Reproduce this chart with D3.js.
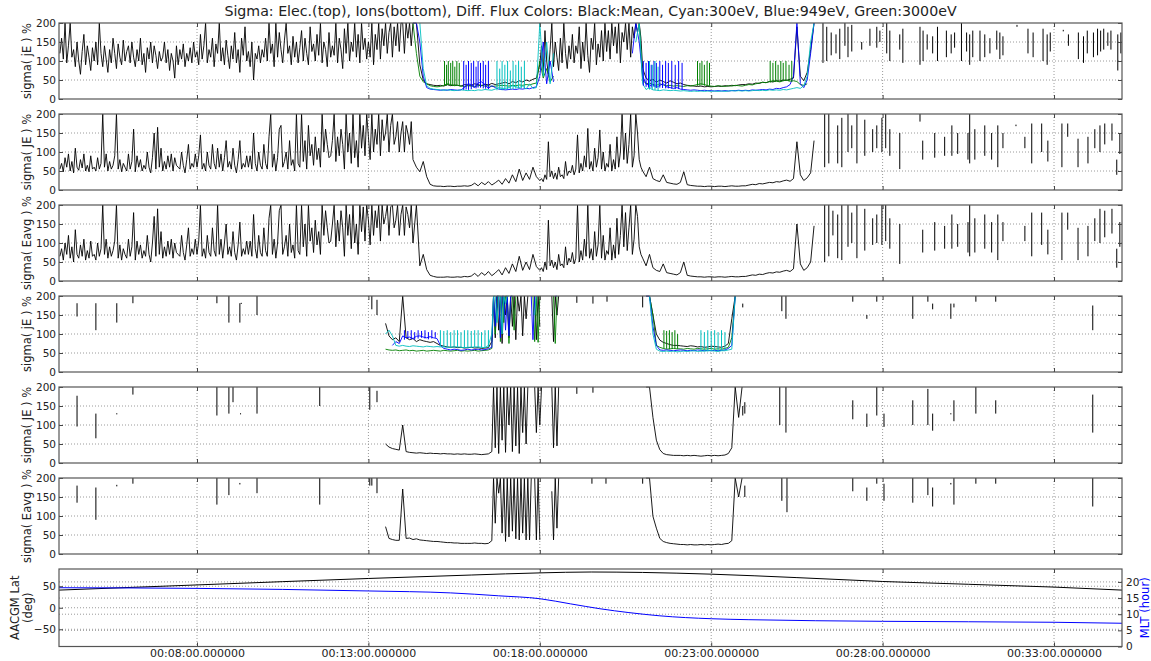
<!DOCTYPE html>
<html><head><meta charset="utf-8">
<script src="https://cdn.jsdelivr.net/npm/d3@7/dist/d3.min.js"></script>
<style>
body{margin:0;background:#fff}
svg{display:block}
text{font-family:"DejaVu Sans",sans-serif;fill:#222}
</style>
</head><body>
<svg id="chart" width="1151" height="661"></svg>
<script>
// ---------------- DATA ----------------
const chartTitle = "Sigma: Elec.(top), Ions(bottom), Diff. Flux Colors: Black:Mean, Cyan:300eV, Blue:949eV, Green:3000eV";
const timeDomain = [3.974, 34.983];          // minutes after 00:00
const timeTicks = [8, 13, 18, 23, 28, 33];     // minutes
const sigmaTicks = [0, 50, 100, 150, 200];
const latTicks = [-50, 0, 50];
const mltTicks = [0, 5, 10, 15, 20];
const fineStep = 0.05, coarseStep = 0.1;      // minutes between samples

// ---- Panel 1: electron sigma(jE) ----
const elecJEMeanA = [
120,160,105,200,95,140,200,110,130,85, 150,100,65,125,170,90,140,110,75,135,
100,150,90,200,120,85,140,105,70,130, 95,160,120,80,145,110,90,155,100,125,
140,95,150,110,85,130,100,160,90,120, 70,135,105,150,95,140,115,80,125,100,
110,150,95,130,75,120,100,55,140,90, 130,105,145,85,120,100,135,95,150,110,
125,90,170,105,140,200,95,130,110,160, 85,145,120,200,100,135,90,155,115,80,
140,105,175,95,130,70,160,115,190,100, 125,85,150,50,120,105,140,95,130,110,
160,100,200,120,145,85,200,110,175,130, 95,155,200,120,140,90,165,110,150,95,
135,180,100,160,120,90,190,125,145,100, 170,115,200,95,150,130,85,175,110,140,
115,200,95,160,130,80,185,120,200,100, 150,125,200,110,170,95,200,130,160,105,
150,110,200,90,170,130,200,105,185,140, 200,120,175,200,110,190,140,200,125,200,
200,120,200,160,200,140,200];
const elecJEMeanB = [200,90,50,40, 38,36,35,36,34,38,35,37,36,34,38,37,
36,40,38,35,39,37,41,38,40,42, 44,40,46,43,48,45,50,47,52,55];
const elecJEMeanC = [
90,140,70,180,100,65,130,200,85,150, 110,75,160,95,200,120,80,140,105,170,
95,140,120,190,80,150,100,200,115,70, 160,130,200,90,145,110,180,100,200,125,
180,105,200,140,190,120,200,95,175,150, 200,130,200,110,190,160,200,175,200,160];
const elecJEMeanD = [80,55,48,52,44,50,46,42,48,44, 40,42,38,36,35,34,33,34,32,33,
32,33,34,33,35,34,36,35,37,38, 38,40,39,42,41,44,43,46,45,48, 47,50,49,52,55,190,60,48,70,130, 200];
// colour channels, 14.3-26.0 (coarse)
const elecJE949 = [
200,200,150,60,30,26,25, 24,23,24,23,25,24,23,24,30,40, 38,30,42,45,38,28,35,30,26,25,
24,25,26,25,27,26,28,27,30,32, 60,150,40,100,45,null,null,
null,null,null,null,null,null,null,null,null,null,null,null,null,null,null,null,null,null,null,
null,120,200,150, 60,40,35,38,30,36,40,32,30,28, 30,26,25,24,23,24,23,22,23,22,
22,21,22,21,22,21,22,22,23,22, 23,22,24,23,24,25,24,26,25,28, 27,30,32,38,60,200,40,30,50,120, 200];
const elecJE300 = [
null,null,200,80,35,28,26, 25,24,23,24,23,22,23,24,23,22, 23,22,24,23,25,24,23,26,30,28,
28,30,35,32,30,34,26,40,28,30, 200,60,150,40,120,null,null,
null,null,null,null,null,null,null,null,null,null,null,null,null,null,null,null,null,null,null,
null,null,150,200, 40,25,30,24,23,22,24,23,22,23, 22,21,22,21,20,21,20,21,20,21,
20,21,20,21,20,21,22,21,22,21, 22,21,22,23,22,23,22,24,23,24, 23,25,24,26,28,30,28,35,60,150, 200];
const elecJE3000 = [
200,120,60,45,40,35,33, 32,33,36,40,38,35,36,34,33,35, 34,33,35,36,34,35,33,34,35,36,
35,34,36,35,37,36,38,37,40,42, 100,55,80,45,60,null,null,
null,null,null,null,null,null,null,null,null,null,null,null,null,null,null,null,null,null,null,
null,null,null,200, 50,40,42,38,36,40,37,35,36,34, 35,34,33,35,34,36,38,40,38,35,
34,33,35,34,33,35,34,36,35,34, 36,38,37,40,42,44,43,46,48,47, 45,48,50,47,48,46,38,36,40,null, null];
// short bursts and isolated samples: [time, top, bottom]
const elecJE3000Spikes = [[15.22,100,35],[15.28,90,35],[15.33,100,36],[15.4,95,35],[15.46,100,34],[15.52,85,35],[15.58,100,36],[15.65,95,35],[22.6,100,35],[22.67,95,35],[22.73,100,36],[22.8,90,35],[22.88,100,34],[22.95,95,35],[24.72,100,43],[24.8,95,44],[24.88,100,45],[24.95,90,46],[25.03,100,45],[25.1,95,47],[25.18,100,48],[25.27,90,46],[25.35,100,45]];
const elecJE949Spikes = [[15.78,100,24],[15.85,90,25],[15.92,100,24],[16.0,95,26],[16.07,100,30],[16.14,85,28],[16.2,100,30],[16.27,95,30],[16.35,100,28],[16.42,90,27],[16.5,100,26],[21.02,100,35],[21.1,95,32],[21.17,100,30],[21.25,90,30],[21.33,100,32],[21.4,95,30],[21.5,100,30],[21.58,90,29],[21.67,100,28],[21.75,95,28],[21.85,100,27],[21.95,90,26],[22.05,100,26],[22.15,95,25]];
const elecJE300Spikes = [[16.75,100,23],[16.83,80,24],[16.9,100,23],[16.98,90,24],[17.06,100,25],[17.14,75,25],[17.22,100,26],[17.3,90,27],[17.38,100,28],[17.46,85,28],[17.55,100,29],[21.2,100,25],[21.28,90,24],[21.36,100,24],[21.45,85,23]];
const elecJESpikes = [[26.26,200,95],[26.37,190,100],[26.5,175,115],[26.64,170,120],[26.75,185,105],[26.9,200,140],[26.99,190,110],[27.1,195,125],[27.39,150,130],[27.63,185,140],[27.83,190,135],[27.92,180,150],[28.12,200,120],[28.21,180,100],[28.5,170,130],[28.59,185,95],[29.09,190,90],[29.18,180,100],[29.3,170,130],[29.46,165,120],[29.6,190,100],[29.86,180,110],[30.0,170,120],[30.1,175,135],[30.3,200,100],[30.45,175,125],[30.54,170,90],[30.63,180,110],[30.84,180,100],[30.98,170,110],[31.13,160,120],[31.33,180,130],[31.42,175,105],[31.51,165,115],[31.92,195,190],[32.24,185,120],[32.39,175,110],[32.68,185,100],[32.8,170,90],[32.89,175,125],[33.27,182,178],[33.42,170,140],[33.71,175,105],[33.86,165,95],[33.97,180,120],[34.15,175,110],[34.27,185,115],[34.36,180,125],[34.45,185,130],[34.57,175,140],[34.66,180,130],[34.86,170,75],[34.95,175,120]];

// ---- Panel 2: electron sigma(JE) ----
const elecJEA = [
55,70,48,85,60,95,50,75,45,110, 60,52,80,58,95,50,65,48,90,55,
60,50,85,55,70,200,60,95,50,75, 55,65,90,200,55,80,48,70,60,50,
95,55,75,160,48,90,60,80,50,65, 55,100,60,45,85,150,55,165,60,110,
50,75,55,90,60,95,50,85,65,60, 55,100,65,45,80,120,55,70,60,95,
60,90,145,55,70,50,100,65,55,120, 70,55,110,60,95,50,85,130,60,75,
55,110,65,45,80,130,55,70,60,90, 60,90,55,150,70,50,100,65,55,120,
70,55,140,200,60,95,50,85,160,170, 60,75,100,55,130,65,80,50,200,70,
60,200,75,130,55,170,90,120,65,140, 80,110,60,200,100,160,120,85,90,130,
200,75,140,90,160,120,55,200,100,150, 70,200,85,130,60,200,110,170,90,200,
140,80,200,100,160,120,200,90,185,130, 150,200,100,170,200,120,140,180,100,150,
180,100,170,150,120,180,80];
const elecJEB = [60,48,75,35, 15,11,10,10,9,10,10,9,10,10,11,10,
12,18,11,20,14,22,13,19,26,15, 30,18,40,22,55,25,45,28,60,35];
const elecJEC = [
25,30,22,40,28,127,35,50,30,45, 28,60,35,40,30,75,38,50,45,65,
40,55,145,45,70,50,90,60,162,55, 75,50,110,60,85,158,55,100,50,70,
60,120,50,80,55,140,60,100,200,80, 150,70,120,200,60,90,200,150,80,60];
const elecJED = [50,35,60,30,25,22,40,20,18,16, 15,20,48,14,12,11,10,10,9,10,
10,9,10,10,9,10,11,10,10,11, 11,13,15,14,17,16,18,20,19,22, 21,24,26,23,30,127,40,25,32,45, 130];
const elecJESpikes2 = [[26.31,200,60],[26.43,200,70],[26.69,170,70],[26.81,190,60],[26.99,200,100],[27.1,170,110],[27.25,200,70],[27.48,185,90],[27.71,160,100],[27.83,170,110],[27.98,190,100],[28.09,200,110],[28.21,160,90],[28.5,150,55],[29.09,200,180],[29.17,130,80],[29.52,150,85],[29.81,140,90],[30.02,170,90],[30.19,150,95],[30.49,150,80],[30.54,200,70],[30.69,160,80],[30.98,170,90],[31.18,150,80],[31.36,170,60],[31.51,150,110],[31.89,172,168],[32.15,140,110],[32.35,175,70],[32.64,175,100],[32.82,130,75],[33.23,175,60],[33.4,175,140],[33.7,135,60],[33.99,140,70],[34.19,160,110],[34.34,170,100],[34.48,175,120],[34.69,175,130],[34.83,80,40],[34.92,150,95]];

// ---- Panel 3: electron sigma(Eavg) ----
const elecEavgA = [
65,85,55,100,70,120,60,90,50,135, 70,60,95,65,110,55,80,60,105,65,
70,55,100,65,85,200,70,110,60,90, 65,80,105,200,60,95,55,85,70,60,
110,65,90,180,55,105,70,95,60,80, 65,120,70,50,100,170,65,190,70,130,
60,90,65,105,70,110,60,100,75,70, 65,120,75,55,95,140,65,85,70,110,
70,105,200,65,85,60,120,75,65,140, 80,65,200,70,110,60,100,150,70,90,
65,130,75,55,95,155,65,85,70,105, 70,105,65,175,85,60,120,75,65,140,
80,65,165,200,70,110,60,100,185,200, 70,90,120,65,150,75,95,60,200,80,
70,200,90,150,65,200,105,140,75,160, 95,130,70,200,120,185,140,100,105,150,
200,90,160,105,185,140,65,200,120,175, 85,200,100,150,70,200,130,195,105,200,
160,95,200,120,185,140,200,105,200,150, 170,200,120,195,200,140,160,200,120,175,
200,120,195,175,140,200,100];
const elecEavgB = [200,40,70,30, 15,12,10,10,10,11,10,10,11,10,12,11,
13,20,12,22,15,25,14,21,30,16, 35,20,45,25,65,28,50,30,70,38];
const elecEavgC = [
28,35,25,50,30,160,40,55,35,50, 30,70,40,45,35,90,42,60,50,75,
45,60,200,50,80,55,110,65,200,60, 85,55,130,65,95,200,60,120,55,80,
70,140,55,95,60,165,70,120,200,90, 180,80,140,200,70,110,200,170,90,70];
const elecEavgD = [60,40,70,35,28,25,45,22,20,18, 16,22,50,15,13,12,11,11,10,11,
11,10,11,11,10,11,12,11,11,12, 12,14,16,15,18,17,20,22,21,24, 23,26,28,25,32,150,45,28,35,50, 145];
const elecEavgSpikes = [[26.31,200,50],[26.43,200,65],[26.55,185,120],[26.69,175,60],[26.81,200,55],[26.99,200,90],[27.1,180,100],[27.25,200,60],[27.48,190,80],[27.71,165,95],[27.83,175,100],[27.98,200,95],[28.09,200,105],[28.21,165,85],[28.5,150,45],[29.17,135,75],[29.52,155,80],[29.81,145,85],[30.02,175,85],[30.19,150,90],[30.49,155,75],[30.54,200,65],[30.69,165,75],[30.98,175,85],[31.18,155,75],[31.36,175,55],[31.51,155,105],[32.15,145,105],[32.35,180,65],[32.64,180,95],[32.82,135,70],[33.23,180,55],[33.4,180,135],[33.7,140,55],[33.99,145,65],[34.19,165,105],[34.34,190,100],[34.48,185,115],[34.69,190,125],[34.83,85,35],[34.92,155,90]];

// ---- Panel 4: ion sigma(jE) ----
const ionJEMean1a = [128,95,85,90,80, 200,90,85,88,80,85,82,80,78,80, 75,70,68,66,65,66,64,65,63,64, 65,63,64,62,63,64,80];
const ionJEMean1b = [200,90,200,110,200,75,200,150,200,90, 200,120,200,85,200,160,200,95,200,140,
  200,null,null,null,200,85,200,120,null,null, null,null,null,null,200,80,200,150,200,null, null,null];
const ionJE3000_1a = [60,58,57,58,56, 57,58,56,57,55,56,57,55,56,57, 56,55,57,56,55,56,57,55,56,55, 56,57,55,56,57,58,62];
const ionJE3000_1b = [200,100,200,200,80,200,130,200,200,75, 200,200,110,200,null,null,null,null,null,null,
  null,null,null,200,80,200,78,200,null,null, null,null,null,null,null,200,75,200,null,null, null,null];
const ionJE949_1a = [null,null,70,80,75, 95,90,92,88,94,95,92,90,93,90, 88,70,62,60,58,60,59,57,58,60, 58,59,60,58,59,61,65];
const ionJE949_1b = [200,120,200,200,90,200,200,110,200,95, 200,200,null,null,null,null,null,null,null,null,
  null,null,200,85,200,null,null,null,null,null, null,null,null,null,null,null,200,200,null,null, null,null];
const ionJE300_1a = [100,110,95,70,68, 70,68,67,69,68,67,66,68,67,66, 67,66,66,65,65,66,66,65,64,65, 65,66,66,65,64,70,100];
const ionJE300_1b = [200,200,130,200,200,100,200,180,200,200, null,null,null,null,null,null,null,null,null,null,
  null,null,null,null,150,200,null,null,null,null, null,null,null,null,null,null,null,null,200,null, null,null];
const ionJEMean2 = [200,200,150,100,84,78,75,72,70,70, 69,68,67,69,68,66,67,65,66,68, 67,66,65,68,75,140,200,null,null];
const ionJE3000_2 = [null,200,150,70,65,62,60,61,62,61, 61,60,62,61,60,62,61,60,61,62, 60,61,60,62,65,90,200,null,null];
const ionJE949_2 = [200,200,120,70,58,57,58,57,56,57, 58,57,56,57,56,58,57,56,57,56, 57,56,57,58,62,70,200,null,null];
const ionJE300_2 = [null,200,100,60,55,54,55,54,55,53, 54,55,54,55,56,54,55,55,56,56, 55,54,56,56,58,60,200,null,null];
const ionJE300Spikes = [[15.1,110,67],[15.2,108,66],[15.3,110,66],[15.4,105,65],[15.5,110,66],[15.6,110,66],[15.7,105,65],[15.8,110,64],[15.9,110,65],[16.0,108,65],[16.1,110,66],[16.2,110,65],[16.3,105,64],[16.4,110,64],[16.5,110,65],[22.7,110,54],[22.8,105,55],[22.9,110,54],[23.0,108,55],[23.1,110,56],[23.2,105,55],[23.3,110,56],[23.4,105,58]];
const ionJE3000Spikes = [[21.62,110,62],[21.7,108,61],[21.78,110,60],[21.86,105,61],[21.94,110,62],[22.02,100,61]];
const ionJE949Spikes = [[14.05,110,85],[14.15,108,88],[14.25,110,86],[14.35,105,85],[14.45,110,88],[14.55,108,90],[14.65,110,88],[14.75,105,86],[14.85,110,88],[14.95,105,90]];
const ionJESpikes = [[4.5,181,146],[5.05,181,110],[5.66,181,130],[6.13,200,181],[8.58,200,181],[8.93,200,130],[9.25,181,130],[9.29,182,179],[9.75,200,150],[13.1,200,165],[13.25,190,150],[19.08,200,182],[19.55,200,180],[19.96,200,185],[21.0,200,170],[23.92,180,170],[25.06,200,160],[25.18,200,140],[27.13,200,185],[27.54,150,140],[27.83,200,185],[28.88,200,140],[29.32,200,185],[29.46,180,165],[29.99,180,140],[30.08,180,170],[30.72,200,185],[31.3,200,185],[34.13,175,110]];

// ---- Panel 5: ion sigma(JE) ----
const ionJE1a = [50,42,38,36,34, 100,30,28,27,26,27,26,25,26,25, 25,24,25,24,24,23,24,23,24,23, 23,24,23,22,23,24,30];
const ionJE1b = [200,40,200,25,200,60,200,28,200,100, 200,30,200,45,200,25,200,80,200,50,
  200,null,null,null,200,80,200,100,200,null, null,null,null,null,200,40,200,45,200,null, null,null];
const ionJE2 = [200,200,120,60,35,25,22,21,20,20, 20,19,20,19,20,19,18,19,20,19, 20,19,20,21,25,40,200,120,200];
const ionJESpikes2 = [[4.5,177,96],[5.05,130,65],[5.66,131,128],[6.13,200,180],[8.58,200,125],[8.93,200,130],[9.05,200,160],[9.27,131,128],[9.75,200,130],[11.58,200,150],[13.04,200,140],[13.25,190,160],[19.08,200,182],[19.55,200,185],[23.92,150,125],[23.98,160,130],[25.0,200,100],[25.18,200,80],[27.13,165,115],[27.54,130,95],[27.83,200,125],[28.04,130,95],[28.88,165,100],[29.32,195,100],[29.46,130,85],[29.99,131,128],[30.08,165,110],[30.72,200,130],[31.3,165,130],[34.13,180,80]];

// ---- Panel 6: ion sigma(Eavg) ----
const ionEavg1a = [72,41,38,36,36, 171,41,42,38,40,37,36,35,34,33, 33,32,31,30,30,29,29,28,28,28, 28,29,28,28,27,28,35];
const ionEavg1b = [200,81,200,160,200,55,200,33,200,45, 200,60,200,40,200,37,200,55,200,37,
  200,37,200,null,200,37,200,37,null,null, null,null,null,null,165,37,200,68,200,null, null,null];
const ionEavg2 = [200,200,99,68,41,33,30,28,27,26, 25,25,24,25,24,24,25,24,25,24, 25,26,25,27,28,35,200,150,200];
const ionEavgSpikes = [[4.5,180,135],[5.05,175,90],[5.66,182,178],[6.13,200,185],[8.58,200,130],[8.93,200,155],[9.25,187,183],[9.75,200,160],[11.58,200,130],[13.04,200,180],[13.1,200,180],[13.25,200,160],[19.52,200,185],[19.93,200,185],[21.0,200,185],[23.98,180,150],[25.06,200,140],[25.21,200,110],[27.13,200,165],[27.54,175,140],[27.83,200,185],[28.04,185,140],[28.88,200,135],[29.32,200,155],[29.46,175,125],[29.99,187,183],[30.08,200,130],[30.72,200,185],[31.3,200,185],[34.13,200,125]];

// ---- Panel 7: ephemeris ----
const latTimes = [3.974, 8, 13, 16, 18, 19.5, 21, 23, 25.5, 28, 33, 34.983];
const aacgmLat = [41, 53, 68, 76, 81, 83, 82, 78, 70, 61, 48, 41];
const mltTimes = [3.974, 8, 13, 15.4, 16.8, 18, 18.9, 19.75, 20.6, 21.5, 23, 24.1, 28, 33, 34.983];
const mltHours = [18.2, 18.0, 17.2, 16.6, 15.7, 14.8, 13.2, 11.7, 10.5, 9.5, 8.6, 8.3, 7.8, 7.5, 7.2];

// ---------------- DRAW ----------------
const C_BLACK = "#000", C_CYAN = "#00bfbf", C_BLUE = "#0000ff", C_GREEN = "#008000";
const svg = d3.select("#chart");
const L = 59, R = 1122;
const x = d3.scaleLinear().domain(timeDomain).range([L, R]);
const fmtTime = t => {
  const total = Math.round(t * 60);
  const mm = Math.floor(total / 60), ss = total % 60;
  return "00:" + String(mm).padStart(2, "0") + ":" + String(ss).padStart(2, "0") + ".000000";
};
function points(segments) {
  const out = [];
  segments.forEach(([start, step, vals]) => vals.forEach((v, i) => out.push({ t: start + i * step, v })));
  return out;
}
const S = fineStep, B = coarseStep;
const panels = [
  { top: 23, label: "sigma( jE ) %",
    series: [
      [[[4.0, S, elecJEMeanA], [14.4, B, elecJEMeanB], [18.0, S, elecJEMeanC], [21.0, B, elecJEMeanD]], C_BLACK],
      [[[14.3, B, elecJE3000]], C_GREEN], [[[14.3, B, elecJE949]], C_BLUE], [[[14.3, B, elecJE300]], C_CYAN]],
    spikes: [[elecJESpikes, C_BLACK], [elecJE3000Spikes, C_GREEN], [elecJE949Spikes, C_BLUE], [elecJE300Spikes, C_CYAN]] },
  { top: 114, label: "sigma( JE ) %",
    series: [[[[4.0, S, elecJEA], [14.4, B, elecJEB], [18.0, S, elecJEC], [21.0, B, elecJED]], C_BLACK]],
    spikes: [[elecJESpikes2, C_BLACK]] },
  { top: 205, label: "sigma( Eavg ) %",
    series: [[[[4.0, S, elecEavgA], [14.4, B, elecEavgB], [18.0, S, elecEavgC], [21.0, B, elecEavgD]], C_BLACK]],
    spikes: [[elecEavgSpikes, C_BLACK]] },
  { top: 296, label: "sigma( jE ) %",
    series: [
      [[[13.5, B, ionJEMean1a], [16.65, S, ionJEMean1b]], C_BLACK], [[[21.1, B, ionJEMean2]], C_BLACK],
      [[[13.5, B, ionJE3000_1a], [16.65, S, ionJE3000_1b]], C_GREEN], [[[21.1, B, ionJE3000_2]], C_GREEN],
      [[[13.5, B, ionJE949_1a], [16.65, S, ionJE949_1b]], C_BLUE], [[[21.1, B, ionJE949_2]], C_BLUE],
      [[[13.5, B, ionJE300_1a], [16.65, S, ionJE300_1b]], C_CYAN], [[[21.1, B, ionJE300_2]], C_CYAN]],
    spikes: [[ionJESpikes, C_BLACK], [ionJE3000Spikes, C_GREEN], [ionJE949Spikes, C_BLUE], [ionJE300Spikes, C_CYAN]] },
  { top: 387, label: "sigma( JE ) %",
    series: [[[[13.5, B, ionJE1a], [16.65, S, ionJE1b]], C_BLACK], [[[21.1, B, ionJE2]], C_BLACK]],
    spikes: [[ionJESpikes2, C_BLACK]] },
  { top: 478, label: "sigma( Eavg ) %",
    series: [[[[13.5, B, ionEavg1a], [16.65, S, ionEavg1b]], C_BLACK], [[[21.1, B, ionEavg2]], C_BLACK]],
    spikes: [[ionEavgSpikes, C_BLACK]] }
];
const PH = 76;
const GRID = "#9a9a9a", FRAME = "#555", TICK = "#444";

function styleAxis(a, size) {
  a.select(".domain").remove();
  a.selectAll("line").attr("stroke", TICK);
  a.selectAll("text").attr("font-size", size).attr("fill", "#222").attr("font-family", "DejaVu Sans");
}

panels.forEach((p, pi) => {
  const top = p.top, bottom = top + PH;
  const y = d3.scaleLinear().domain([0, 200]).range([bottom, top]);
  const g = svg.append("g");
  const clipId = "clip" + pi;
  svg.append("clipPath").attr("id", clipId).append("rect").attr("x", L).attr("y", top - 0.5).attr("width", R - L).attr("height", PH + 1);
  g.append("g").selectAll("line").data(timeTicks).join("line")
    .attr("x1", d => x(d)).attr("x2", d => x(d)).attr("y1", top).attr("y2", bottom)
    .attr("stroke", GRID).attr("stroke-dasharray", "1,2");
  g.append("g").selectAll("line").data(sigmaTicks.slice(1, -1)).join("line")
    .attr("x1", L).attr("x2", R).attr("y1", d => y(d)).attr("y2", d => y(d))
    .attr("stroke", GRID).attr("stroke-dasharray", "1,2");
  const dg = g.append("g").attr("clip-path", `url(#${clipId})`);
  const line = d3.line().defined(d => d.v !== null).x(d => x(d.t)).y(d => y(d.v));
  p.series.forEach(([segs, col]) => {
    dg.append("path").datum(points(segs)).attr("d", line)
      .attr("fill", "none").attr("stroke", col).attr("stroke-width", 0.9).attr("stroke-linejoin", "round");
  });
  p.spikes.forEach(([arr, col]) => {
    dg.append("g").selectAll("line").data(arr).join("line")
      .attr("x1", d => x(d[0])).attr("x2", d => x(d[0])).attr("y1", d => y(d[1])).attr("y2", d => y(d[2]))
      .attr("stroke", col).attr("stroke-width", 1);
  });
  const yl = g.append("g").attr("transform", `translate(${L},0)`).call(d3.axisLeft(y).tickValues(sigmaTicks).tickSize(-4).tickPadding(3));
  const yr = g.append("g").attr("transform", `translate(${R},0)`).call(d3.axisRight(y).tickValues(sigmaTicks).tickSize(-4).tickFormat(""));
  const xb = g.append("g").attr("transform", `translate(0,${bottom})`).call(d3.axisBottom(x).tickValues(timeTicks).tickSize(-4).tickFormat(""));
  const xt = g.append("g").attr("transform", `translate(0,${top})`).call(d3.axisTop(x).tickValues(timeTicks).tickSize(-4).tickFormat(""));
  [yl, yr, xb, xt].forEach(a => styleAxis(a, 10.5));
  g.append("rect").attr("x", L).attr("y", top).attr("width", R - L).attr("height", PH)
    .attr("fill", "none").attr("stroke", FRAME).attr("stroke-width", 1.2);
  g.append("text").attr("transform", `translate(31,${(top + bottom) / 2}) rotate(-90)`)
    .attr("text-anchor", "middle").attr("font-size", 11.5).text(p.label);
});

// Panel 7
{
  const top = 569, bottom = 646.5;
  const yL = d3.scaleLinear().domain([-90, 90]).range([bottom, top]);
  const yR = d3.scaleLinear().domain([0, 24]).range([bottom, top]);
  const g = svg.append("g");
  svg.append("clipPath").attr("id", "clip7").append("rect").attr("x", L).attr("y", top).attr("width", R - L).attr("height", bottom - top);
  g.append("g").selectAll("line").data(timeTicks).join("line")
    .attr("x1", d => x(d)).attr("x2", d => x(d)).attr("y1", top).attr("y2", bottom)
    .attr("stroke", GRID).attr("stroke-dasharray", "1,2");
  g.append("g").selectAll("line").data(latTicks).join("line")
    .attr("x1", L).attr("x2", R).attr("y1", d => yL(d)).attr("y2", d => yL(d))
    .attr("stroke", GRID).attr("stroke-dasharray", "1,2");
  g.append("g").selectAll("line").data(mltTicks.slice(1)).join("line")
    .attr("x1", L).attr("x2", R).attr("y1", d => yR(d)).attr("y2", d => yR(d))
    .attr("stroke", GRID).attr("stroke-dasharray", "1,2");
  const dg = g.append("g").attr("clip-path", "url(#clip7)");
  dg.append("path").datum(latTimes.map((t, i) => [t, aacgmLat[i]]))
    .attr("d", d3.line().curve(d3.curveMonotoneX).x(d => x(d[0])).y(d => yL(d[1])))
    .attr("fill", "none").attr("stroke", C_BLACK).attr("stroke-width", 1);
  dg.append("path").datum(mltTimes.map((t, i) => [t, mltHours[i]]))
    .attr("d", d3.line().curve(d3.curveMonotoneX).x(d => x(d[0])).y(d => yR(d[1])))
    .attr("fill", "none").attr("stroke", C_BLUE).attr("stroke-width", 1);
  const yl = g.append("g").attr("transform", `translate(${L},0)`).call(d3.axisLeft(yL).tickValues(latTicks).tickSize(-4).tickPadding(3).tickFormat(d => d < 0 ? "\u2212" + Math.abs(d) : d));
  const yr = g.append("g").attr("transform", `translate(${R},0)`).call(d3.axisRight(yR).tickValues(mltTicks).tickSize(-4).tickPadding(4));
  const xb = g.append("g").attr("transform", `translate(0,${bottom})`).call(d3.axisBottom(x).tickValues(timeTicks).tickSize(-4).tickPadding(3).tickFormat(fmtTime));
  const xt = g.append("g").attr("transform", `translate(0,${top})`).call(d3.axisTop(x).tickValues(timeTicks).tickSize(-4).tickFormat(""));
  [yl, yr, xt].forEach(a => styleAxis(a, 10.5));
  styleAxis(xb, 11);
  g.append("rect").attr("x", L).attr("y", top).attr("width", R - L).attr("height", bottom - top)
    .attr("fill", "none").attr("stroke", FRAME).attr("stroke-width", 1.2);
  const cy = (top + bottom) / 2;
  g.append("text").attr("transform", `translate(19,${cy}) rotate(-90)`).attr("text-anchor", "middle").attr("font-size", 11.5).text("AACGM Lat");
  g.append("text").attr("transform", `translate(32,${cy}) rotate(-90)`).attr("text-anchor", "middle").attr("font-size", 11.5).text("(deg)");
  g.append("text").attr("transform", `translate(1149,${cy}) rotate(-90)`).attr("text-anchor", "middle").attr("font-size", 11.5)
    .style("fill", C_BLUE).text("MLT (hour)");
}

svg.append("text").attr("x", (L + R) / 2).attr("y", 16).attr("text-anchor", "middle").attr("font-size", 14.2).text(chartTitle);
</script>
</body></html>
